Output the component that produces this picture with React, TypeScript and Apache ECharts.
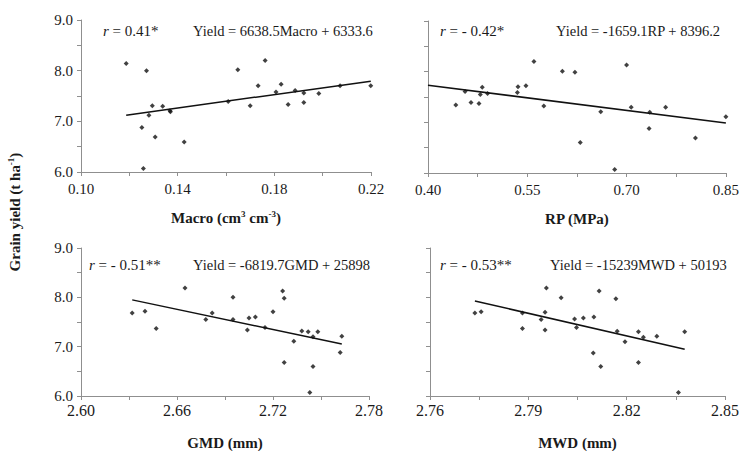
import React, { useEffect, useRef } from "react";
import * as echarts from "echarts";

const FONT = "'Liberation Serif', 'Times New Roman', serif";
const INK = "#1a1a1a";
const AXIS = "#8f8f8f";

// ---- data (grain yield in t/ha) ----
const macro = [0.1187, 0.1271, 0.1252, 0.1258, 0.1281, 0.1295, 0.1307, 0.1338, 0.1368, 0.137, 0.1427, 0.1609, 0.1649, 0.17, 0.1733, 0.1762, 0.1807, 0.1828, 0.1857, 0.1886, 0.1922, 0.1922, 0.1984, 0.2072, 0.2199];
const macroYield = [8.14, 8.0, 6.88, 6.07, 7.12, 7.31, 6.69, 7.3, 7.21, 7.19, 6.59, 7.39, 8.02, 7.31, 7.7, 8.2, 7.58, 7.73, 7.33, 7.61, 7.56, 7.37, 7.55, 7.7, 7.7];

const rp = [0.442, 0.456, 0.465, 0.477, 0.479, 0.482, 0.49, 0.535, 0.536, 0.548, 0.56, 0.575, 0.603, 0.622, 0.63, 0.661, 0.682, 0.7, 0.707, 0.734, 0.735, 0.759, 0.804, 0.85];
const rpYield = [7.34, 7.61, 7.39, 7.37, 7.55, 7.69, 7.57, 7.59, 7.7, 7.72, 8.2, 7.32, 8.01, 7.99, 6.6, 7.21, 6.07, 8.13, 7.3, 6.88, 7.2, 7.3, 6.69, 7.11];

const gmd = [2.632, 2.64, 2.647, 2.665, 2.678, 2.682, 2.695, 2.695, 2.704, 2.705, 2.709, 2.715, 2.72, 2.726, 2.727, 2.727, 2.733, 2.738, 2.742, 2.743, 2.745, 2.745, 2.748, 2.762, 2.763];
const gmdYield = [7.68, 7.72, 7.37, 8.19, 7.55, 7.68, 8.0, 7.55, 7.34, 7.58, 7.6, 7.39, 7.71, 8.13, 6.68, 7.98, 7.11, 7.32, 7.3, 6.07, 7.2, 6.6, 7.3, 6.88, 7.21];

const mwd = [2.7737, 2.7756, 2.7882, 2.7882, 2.7939, 2.7951, 2.7951, 2.7955, 2.8, 2.8041, 2.8047, 2.8068, 2.8098, 2.81, 2.8116, 2.8121, 2.8167, 2.8171, 2.8195, 2.8236, 2.8236, 2.8251, 2.8292, 2.8358, 2.8377];
const mwdYield = [7.68, 7.71, 7.68, 7.37, 7.55, 7.7, 7.34, 8.19, 7.99, 7.56, 7.39, 7.58, 6.87, 7.6, 8.13, 6.6, 7.97, 7.31, 7.1, 7.3, 6.68, 7.19, 7.21, 6.07, 7.3];

// regression coefficients (kg/ha)
const slopes = [6638.5, -1659.1, -6819.7, -15239];
const intercepts = [6333.6, 8396.2, 25898, 50193];
const rpTrendSpan = [0.4, 0.85];

// tick labels
const yTicks = ["6.0", "7.0", "8.0", "9.0"];
const macroTicks = ["0.10", "0.14", "0.18", "0.22"];
const rpTicks = ["0.40", "0.55", "0.70", "0.85"];
const gmdTicks = ["2.60", "2.66", "2.72", "2.78"];
const mwdTicks = ["2.76", "2.79", "2.82", "2.85"];

const rTexts = [" = 0.41*", " = - 0.42*", " = - 0.51**", " = - 0.53**"];
const eqTexts = [
  "Yield = 6638.5Macro + 6333.6",
  "Yield = -1659.1RP + 8396.2",
  "Yield = -6819.7GMD + 25898",
  "Yield = -15239MWD + 50193",
];

const grids = [
  { left: 81, top: 20, width: 290, height: 152 },
  { left: 428, top: 21, width: 299, height: 152 },
  { left: 81, top: 248, width: 288, height: 149 },
  { left: 430, top: 248, width: 297, height: 149 },
];

const xDefs = [
  { min: 0.1, max: 0.22, interval: 0.02, ticks: macroTicks, name: "{b|Macro (cm}{s|3}{b| cm}{s|-3}{b|)}", size: 15, gap: 37 },
  { min: 0.4, max: 0.85, interval: 0.075, ticks: rpTicks, name: "{b|RP (MPa)}", size: 15, gap: 37 },
  { min: 2.6, max: 2.78, interval: 0.03, ticks: gmdTicks, name: "{b|GMD (mm)}", size: 16, gap: 38 },
  { min: 2.76, max: 2.85, interval: 0.015, ticks: mwdTicks, name: "{b|MWD (mm)}", size: 16, gap: 38 },
];

const textPos = [
  { rx: 103, ex: 193, y: 31 },
  { rx: 440, ex: 556, y: 31 },
  { rx: 89, ex: 193, y: 265 },
  { rx: 440, ex: 550, y: 265 },
];

const nameRich = {
  b: { fontFamily: FONT, fontWeight: "bold", fontSize: 15, color: INK, lineHeight: 17 },
  s: { fontFamily: FONT, fontWeight: "bold", fontSize: 9, color: INK, verticalAlign: "top", lineHeight: 17 },
};

export default function App() {
  const ref = useRef<HTMLDivElement>(null);

  useEffect(() => {
    if (!ref.current) return;
    const chart = echarts.init(ref.current, undefined, { renderer: "svg" });

    const xs = [macro, rp, gmd, mwd];
    const ys = [macroYield, rpYield, gmdYield, mwdYield];

    const series: any[] = [];
    xs.forEach((xv, i) => {
      series.push({
        type: "scatter",
        xAxisIndex: i,
        yAxisIndex: i,
        symbol: "diamond",
        symbolSize: 5,
        itemStyle: { color: "#111" },
        data: xv.map((x, k) => [x, ys[i][k]]),
      });
      const span = i === 1 ? rpTrendSpan : [Math.min(...xv), Math.max(...xv)];
      series.push({
        type: "line",
        xAxisIndex: i,
        yAxisIndex: i,
        symbol: "none",
        lineStyle: { color: "#111", width: 1.5 },
        data: span.map((x) => [x, (slopes[i] * x + intercepts[i]) / 1000]),
      });
    });

    const xAxis = xDefs.map((d, i) => ({
      type: "value",
      gridIndex: i,
      min: d.min,
      max: d.max,
      interval: d.interval,
      splitLine: { show: false },
      axisLine: { show: true, onZero: false, lineStyle: { color: AXIS, width: 1 } },
      axisTick: { show: true, inside: false, length: 4, lineStyle: { color: AXIS } },
      axisLabel: {
        show: true,
        margin: i < 2 ? 9 : 6,
        fontFamily: FONT,
        fontSize: d.size,
        color: INK,
        showMinLabel: true,
        showMaxLabel: true,
        formatter: (v: number) => {
          const s = v.toFixed(2);
          return d.ticks.includes(s) ? s : "";
        },
      },
      name: d.name,
      nameLocation: "middle",
      nameGap: d.gap,
      nameTextStyle: { rich: nameRich },
    }));

    const yAxis = grids.map((_, i) => ({
      type: "value",
      gridIndex: i,
      min: 6,
      max: 9,
      interval: 0.5,
      splitLine: { show: false },
      axisLine: { show: true, onZero: false, lineStyle: { color: AXIS, width: 1 } },
      axisTick: { show: true, inside: false, length: 4, lineStyle: { color: AXIS } },
      axisLabel: {
        show: i % 2 === 0,
        margin: 8,
        fontFamily: FONT,
        fontSize: 15,
        color: INK,
        formatter: (v: number) => {
          const s = v.toFixed(1);
          return yTicks.includes(s) ? s : "";
        },
      },
    }));

    const graphic: any[] = [];
    textPos.forEach((p, i) => {
      graphic.push({
        type: "text",
        x: p.rx,
        y: p.y,
        style: {
          text: "{i|r}" + rTexts[i],
          fontFamily: FONT,
          fontSize: 15,
          fill: INK,
          verticalAlign: "middle",
          rich: { i: { fontFamily: FONT, fontSize: 15, fontStyle: "italic", fill: INK } },
        },
      });
      graphic.push({
        type: "text",
        x: p.ex,
        y: p.y,
        style: {
          text: eqTexts[i],
          fontFamily: FONT,
          fontSize: 14.5,
          fill: INK,
          verticalAlign: "middle",
        },
      });
    });
    graphic.push({
      type: "text",
      x: 15,
      y: 212,
      rotation: Math.PI / 2,
      style: {
        text: "{b|Grain yield (t ha}{s|-1}{b|)}",
        align: "center",
        verticalAlign: "middle",
        fontFamily: FONT,
        fontSize: 15,
        fontWeight: "bold",
        fill: INK,
        rich: {
          b: { fontFamily: FONT, fontWeight: "bold", fontSize: 15, fill: INK, lineHeight: 17 },
          s: { fontFamily: FONT, fontWeight: "bold", fontSize: 9, fill: INK, verticalAlign: "top", lineHeight: 17 },
        },
      },
    });

    chart.setOption({
      animation: false,
      backgroundColor: "#ffffff",
      grid: grids,
      xAxis,
      yAxis,
      series,
      graphic,
    });

    return () => chart.dispose();
  }, []);

  return (
    <div
      ref={ref}
      style={{ position: "absolute", left: 0, top: 0, width: 742, height: 451, background: "#fff" }}
    />
  );
}
